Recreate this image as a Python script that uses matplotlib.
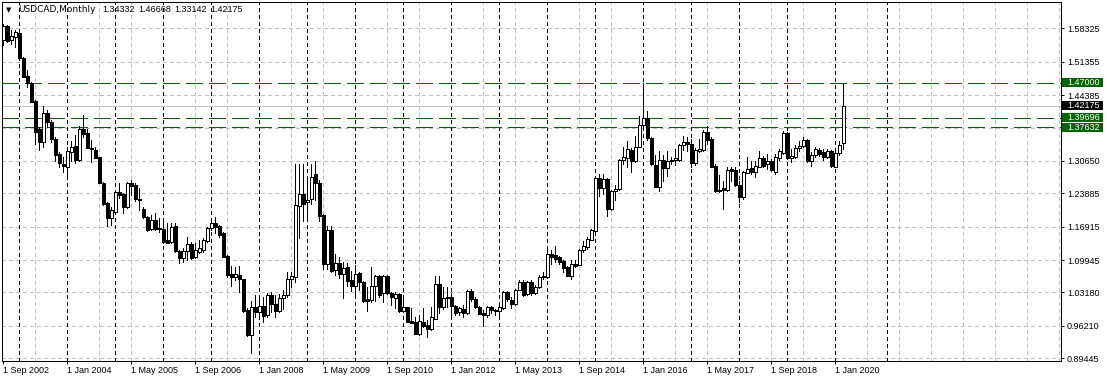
import numpy as np
import matplotlib.pyplot as plt
from matplotlib.patches import Rectangle
from matplotlib.transforms import blended_transform_factory

plt.rcParams['lines.scale_dashes'] = False

# USDCAD monthly bars, Sep 2002 .. Mar 2020 (one line per year)
opens = [
    1.5588, 1.5880, 1.5588, 1.5644,
    1.5727, 1.5205, 1.4836, 1.4697, 1.4314, 1.3730, 1.3465, 1.4057, 1.3869, 1.3521, 1.3201, 1.2999,
    1.2943, 1.3256, 1.3375, 1.3083, 1.3730, 1.3639, 1.3340, 1.3291, 1.3152, 1.2609, 1.2178, 1.1878,
    1.2005, 1.2409, 1.2374, 1.2110, 1.2597, 1.2562, 1.2270, 1.2060, 1.1901, 1.1637, 1.1831, 1.1658,
    1.1637, 1.1414, 1.1365, 1.1706, 1.1184, 1.1031, 1.1184, 1.1330, 1.1052, 1.1170, 1.1205, 1.1400,
    1.1658, 1.1776, 1.1706, 1.1553, 1.1080, 1.0697, 1.0648, 1.0683, 1.0593, 0.9952, 0.9430, 1.0022,
    0.9912, 1.0031, 0.9843, 1.0260, 1.0086, 0.9933, 1.0212, 1.0260, 1.0608, 1.0643, 1.2119, 1.2383,
    1.2209, 1.2271, 1.2786, 1.2605, 1.1930, 1.0921, 1.1631, 1.0782, 1.0935, 1.0697, 1.0843, 1.0579,
    1.0461, 1.0718, 1.0544, 1.0175, 1.0161, 1.0454, 1.0669, 1.0300, 1.0669, 1.0300, 1.0200, 1.0287,
    0.9939, 1.0008, 0.9730, 0.9709, 0.9451, 0.9709, 0.9639, 0.9549, 0.9764, 1.0496, 1.0008, 1.0196,
    1.0217, 1.0036, 0.9904, 0.9967, 0.9897, 1.0356, 1.0182, 1.0022, 0.9897, 0.9848, 1.0008, 0.9953,
    0.9939, 0.9988, 1.0335, 1.0169, 1.0072, 1.0378, 1.0538, 1.0281, 1.0538, 1.0309, 1.0434, 1.0643,
    1.0640, 1.1113, 1.1092, 1.1057, 1.0974, 1.0848, 1.0654, 1.0904, 1.0883, 1.1196, 1.1266, 1.1419,
    1.1594, 1.2708, 1.2499, 1.2687, 1.2061, 1.2444, 1.2478, 1.3091, 1.3126, 1.3300, 1.3056, 1.3362,
    1.3822, 1.3961, 1.3543, 1.2986, 1.2527, 1.3091, 1.2917, 1.3056, 1.3091, 1.3091, 1.3404, 1.3453,
    1.3418, 1.3014, 1.3279, 1.3292, 1.3661, 1.3522, 1.2965, 1.2429, 1.2499, 1.2464, 1.2889, 1.2882,
    1.2569, 1.2304, 1.2805, 1.2917, 1.2826, 1.2945, 1.3125, 1.3000, 1.3070, 1.2826, 1.3125, 1.3223,
    1.3640, 1.3125, 1.3153, 1.3334, 1.3383, 1.3508, 1.3056, 1.3195, 1.3299, 1.3244, 1.3153, 1.3279,
    1.2945, 1.3223, 1.34332,
]
highs = [
    1.5915, 1.5901, 1.5797, 1.5797,
    1.5797, 1.5240, 1.4962, 1.4718, 1.4335, 1.3778, 1.4217, 1.4130, 1.3918, 1.3570, 1.3256, 1.3152,
    1.3360, 1.3480, 1.3604, 1.3799, 1.4022, 1.3730, 1.3500, 1.3360, 1.3152, 1.2630, 1.2212, 1.2108,
    1.2458, 1.2597, 1.2388, 1.2632, 1.2667, 1.2597, 1.2492, 1.2100, 1.1915, 1.1936, 1.1985, 1.1866,
    1.1866, 1.1762, 1.1762, 1.1776, 1.1205, 1.1240, 1.1483, 1.1379, 1.1344, 1.1414, 1.1448, 1.1692,
    1.1866, 1.1887, 1.1727, 1.1588, 1.1101, 1.0871, 1.0857, 1.0871, 1.0606, 0.9987, 1.0150, 1.0260,
    1.0191, 1.0226, 1.0309, 1.0330, 1.0260, 1.0295, 1.0365, 1.0748, 1.0748, 1.3009, 1.3009, 1.3010,
    1.2760, 1.2990, 1.3065, 1.2660, 1.1960, 1.1700, 1.1700, 1.1130, 1.1060, 1.0962, 1.0935, 1.0760,
    1.0892, 1.0753, 1.0558, 1.0440, 1.0851, 1.0683, 1.0683, 1.0683, 1.0683, 1.0321, 1.0320, 1.0301,
    1.0196, 1.0008, 0.9988, 0.9813, 0.9848, 0.9988, 0.9744, 1.0008, 1.0662, 1.0662, 1.0440, 1.0440,
    1.0314, 1.0057, 1.0022, 1.0057, 1.0370, 1.0384, 1.0217, 1.0043, 0.9953, 1.0036, 1.0036, 0.9967,
    1.0036, 1.0356, 1.0356, 1.0225, 1.0399, 1.0587, 1.0573, 1.0559, 1.0573, 1.0469, 1.0678, 1.0747,
    1.1231, 1.1210, 1.1280, 1.1071, 1.1002, 1.0862, 1.0988, 1.0988, 1.1231, 1.1384, 1.1475, 1.1649,
    1.2760, 1.2791, 1.2791, 1.2708, 1.2458, 1.2560, 1.3105, 1.3348, 1.3474, 1.3334, 1.3592, 1.4010,
    1.4692, 1.4100, 1.3557, 1.3195, 1.3279, 1.3195, 1.3265, 1.3140, 1.3314, 1.3418, 1.3592, 1.3557,
    1.3522, 1.3334, 1.3522, 1.3710, 1.3801, 1.3557, 1.3000, 1.2777, 1.2652, 1.2931, 1.2940, 1.2931,
    1.2652, 1.2861, 1.3140, 1.3070, 1.3070, 1.3279, 1.3174, 1.3209, 1.3105, 1.3209, 1.3313, 1.3696,
    1.3661, 1.3313, 1.3404, 1.3487, 1.3557, 1.3522, 1.3244, 1.3348, 1.3334, 1.3313, 1.3313, 1.3293,
    1.3279, 1.3473, 1.46668,
]
lows = [
    1.5484, 1.5553, 1.5498, 1.5449,
    1.5170, 1.4808, 1.4614, 1.4286, 1.3410, 1.3291, 1.3361, 1.3778, 1.3465, 1.3069, 1.2943, 1.2839,
    1.2686, 1.3060, 1.3013, 1.3069, 1.3570, 1.3326, 1.3048, 1.3117, 1.2595, 1.2143, 1.1711, 1.1725,
    1.1970, 1.2284, 1.1984, 1.2075, 1.2353, 1.2235, 1.2040, 1.1866, 1.1609, 1.1623, 1.1623, 1.1588,
    1.1358, 1.1344, 1.1344, 1.1170, 1.0941, 1.0962, 1.0996, 1.1017, 1.1031, 1.1135, 1.1170, 1.1379,
    1.1623, 1.1553, 1.1483, 1.1052, 1.0648, 1.0453, 1.0578, 1.0332, 0.9917, 0.9409, 0.9058, 0.9810,
    0.9773, 0.9704, 0.9808, 0.9912, 0.9808, 0.9912, 0.9982, 1.0226, 1.0434, 1.0538, 1.1464, 1.1812,
    1.1812, 1.2170, 1.2250, 1.1810, 1.0800, 1.0800, 1.0750, 1.0690, 1.0630, 1.0210, 1.0446, 1.0342,
    1.0196, 1.0370, 1.0126, 0.9939, 1.0126, 1.0133, 1.0231, 1.0126, 1.0287, 1.0057, 0.9989, 0.9918,
    0.9918, 0.9709, 0.9674, 0.9451, 0.9430, 0.9604, 0.9396, 0.9535, 0.9764, 0.9883, 0.9967, 1.0008,
    0.9849, 0.9849, 0.9849, 0.9800, 0.9869, 1.0148, 0.9988, 0.9869, 0.9619, 0.9814, 0.9897, 0.9849,
    0.9849, 0.9967, 1.0140, 0.9996, 1.0050, 1.0364, 1.0246, 1.0260, 1.0260, 1.0281, 1.0420, 1.0608,
    1.0630, 1.0918, 1.0953, 1.0918, 1.0744, 1.0654, 1.0605, 1.0849, 1.0883, 1.1161, 1.1231, 1.1405,
    1.1580, 1.2339, 1.2374, 1.1922, 1.2032, 1.2250, 1.2458, 1.3000, 1.2931, 1.2826, 1.3035, 1.3348,
    1.3801, 1.3502, 1.2986, 1.2513, 1.2444, 1.2639, 1.2757, 1.3000, 1.2986, 1.3070, 1.3293, 1.3279,
    1.2931, 1.2986, 1.3244, 1.3279, 1.3410, 1.2931, 1.2408, 1.2408, 1.2061, 1.2443, 1.2650, 1.2548,
    1.2200, 1.2269, 1.2805, 1.2791, 1.2735, 1.2931, 1.2931, 1.2896, 1.2861, 1.2791, 1.3084, 1.3209,
    1.3105, 1.3035, 1.3125, 1.3279, 1.3348, 1.3035, 1.2965, 1.3153, 1.3174, 1.3084, 1.3125, 1.2931,
    1.2931, 1.3195, 1.33142,
]
closes = [
    1.5880, 1.5567, 1.5672, 1.5748,
    1.5205, 1.4822, 1.4683, 1.4300, 1.3674, 1.3465, 1.4057, 1.3869, 1.3514, 1.3187, 1.3013, 1.2964,
    1.3270, 1.3347, 1.3083, 1.3730, 1.3618, 1.3326, 1.3312, 1.3131, 1.2609, 1.2164, 1.1878, 1.2038,
    1.2409, 1.2360, 1.2110, 1.2597, 1.2548, 1.2270, 1.2249, 1.1887, 1.1623, 1.1831, 1.1637, 1.1637,
    1.1379, 1.1358, 1.1692, 1.1184, 1.1031, 1.1184, 1.1330, 1.1031, 1.1205, 1.1240, 1.1414, 1.1658,
    1.1776, 1.1692, 1.1518, 1.1066, 1.0683, 1.0648, 1.0697, 1.0593, 0.9938, 0.9430, 1.0022, 0.9917,
    1.0031, 0.9829, 1.0260, 1.0072, 0.9933, 1.0212, 1.0260, 1.0608, 1.0657, 1.2139, 1.2369, 1.2174,
    1.2258, 1.2731, 1.2605, 1.1909, 1.0921, 1.1631, 1.0768, 1.0935, 1.0698, 1.0823, 1.0565, 1.0461,
    1.0704, 1.0530, 1.0147, 1.0147, 1.0454, 1.0669, 1.0266, 1.0669, 1.0300, 1.0217, 1.0280, 0.9939,
    1.0008, 0.9709, 0.9688, 0.9451, 0.9730, 0.9618, 0.9549, 0.9813, 1.0496, 1.0008, 1.0196, 1.0217,
    1.0036, 0.9897, 0.9988, 0.9883, 1.0356, 1.0182, 1.0022, 0.9869, 0.9848, 1.0008, 0.9953, 0.9939,
    1.0008, 1.0335, 1.0175, 1.0072, 1.0378, 1.0538, 1.0260, 1.0538, 1.0309, 1.0434, 1.0643, 1.0657,
    1.1127, 1.1057, 1.1022, 1.0953, 1.0834, 1.0654, 1.0918, 1.0876, 1.1196, 1.1280, 1.1440, 1.1614,
    1.2708, 1.2499, 1.2687, 1.2061, 1.2444, 1.2478, 1.3091, 1.3140, 1.3314, 1.3056, 1.3362, 1.3822,
    1.3961, 1.3543, 1.3000, 1.2527, 1.3091, 1.2917, 1.3056, 1.3091, 1.3126, 1.3404, 1.3453, 1.3425,
    1.3014, 1.3299, 1.3313, 1.3661, 1.3501, 1.2945, 1.2429, 1.2464, 1.2457, 1.2882, 1.2861, 1.2569,
    1.2304, 1.2826, 1.2896, 1.2826, 1.2951, 1.3125, 1.2965, 1.3056, 1.2875, 1.3153, 1.3279, 1.3640,
    1.3125, 1.3174, 1.3334, 1.3383, 1.3508, 1.3070, 1.3195, 1.3313, 1.3209, 1.3153, 1.3279, 1.2965,
    1.3237, 1.3404, 1.42175,
]

xtick_labels = ["1 Sep 2002", "1 Jan 2004", "1 May 2005", "1 Sep 2006", "1 Jan 2008",
                "1 May 2009", "1 Sep 2010", "1 Jan 2012", "1 May 2013", "1 Sep 2014",
                "1 Jan 2016", "1 May 2017", "1 Sep 2018", "1 Jan 2020"]
ytick_values = [1.58325, 1.51355, 1.44385, 1.30650, 1.23885, 1.16915,
                1.09945, 1.03180, 0.96210, 0.89445]
hidden_grid = [1.37415]
green_levels = [1.47000, 1.39696, 1.37632]
bid = 1.42175
header = ["USDCAD,Monthly", "1.34332", "1.46668", "1.33142", "1.42175"]

GREEN = "#006400"
GRID = "#c0c0c0"
PX = 0.72  # one pixel in points at dpi 100

fig = plt.figure(figsize=(11.07, 3.82), dpi=100)
ax = fig.add_axes([2 / 1107, 21 / 382, 1059 / 1107, 359 / 382])
ax.set_xlim(-0.325, 264.425)
ax.set_ylim(0.88881, 1.63815)

o = np.array(opens)
h = np.array(highs)
l = np.array(lows)
c = np.array(closes)
idx = np.arange(len(c))

# grid
for v in ytick_values + hidden_grid:
    ax.axhline(v, color=GRID, lw=PX, ls=(0, (2.2, 2.2)), zorder=1, antialiased=False)
for k in range(8, 265, 8):
    ax.axvline(k, color=GRID, lw=PX, ls=(0, (2.2, 2.2)), zorder=1, antialiased=False)

# period separators (January bars) + the one MT4 draws in the empty shift area
jan = [i for i in idx if (8 + i) % 12 == 0] + [221]
for k in jan:
    ax.axvline(k, color="black", lw=PX, ls=(0, (2.2, 2.2)), zorder=1.5, antialiased=False)

# level lines
ax.axhline(bid, color=GRID, lw=PX, zorder=1.6, antialiased=False)
for v in green_levels:
    ax.axhline(v, color=GREEN, lw=PX, ls=(0, (12.2, 5.0)), zorder=1.7, antialiased=False)

# candles
up = c >= o
lo = np.minimum(o, c)
hi = np.maximum(o, c)
ax.vlines(idx, l, h, color="black", lw=PX, zorder=3, antialiased=False)
ax.bar(idx[up], (hi - lo)[up], bottom=lo[up], width=0.68, color="white",
       edgecolor="black", linewidth=PX, zorder=4, antialiased=False)
ax.bar(idx[~up], (hi - lo)[~up], bottom=lo[~up], width=0.68, color="black",
       edgecolor="black", linewidth=PX, zorder=4, antialiased=False)

# axes styling
for s in ax.spines.values():
    s.set_linewidth(PX)
ax.set_xticks(np.arange(0, len(c), 16))
ax.set_xticklabels(xtick_labels, ha="left", family="Liberation Sans", fontsize=6.5)
ax.set_yticks(ytick_values)
ax.set_yticklabels([f"{v:.5f}" for v in ytick_values], family="Liberation Sans", fontsize=6.5)
ax.yaxis.tick_right()
ax.tick_params(axis="y", length=3 * PX, width=PX, pad=2.2)
ax.tick_params(axis="x", length=3 * PX, width=PX, pad=1.5)

# price boxes on the right scale
tr = blended_transform_factory(ax.transAxes, ax.transData)
box_h = 9.5 * (0.74934 / 359)
for v, col in [(green_levels[0], GREEN), (bid, "black"),
               (green_levels[1], GREEN), (green_levels[2], GREEN)]:
    ax.add_patch(Rectangle((1.0010, v - box_h / 2), 41 / 1059, box_h, transform=tr,
                           facecolor=col, edgecolor="none", clip_on=False, zorder=5))
    ax.text(1.0059, v, f"{v:.5f}", transform=tr, color="white", va="center", ha="left",
            family="Liberation Sans", fontsize=6.5, clip_on=False, zorder=6)

# header
ty = 1 - 10 / 382
fig.text(9 / 1107, ty, "\u25bc", fontsize=5, family="DejaVu Sans", ha="center", va="center")
fig.text(18 / 1107, ty, header[0], fontsize=6.5, family="DejaVu Sans", va="center")
for t, xp in zip(header[1:], [102.7, 138.3, 174, 210.7]):
    fig.text(xp / 1107, ty, t, fontsize=6.5, family="Liberation Sans", va="center")

fig.savefig("out.png", dpi=100)
